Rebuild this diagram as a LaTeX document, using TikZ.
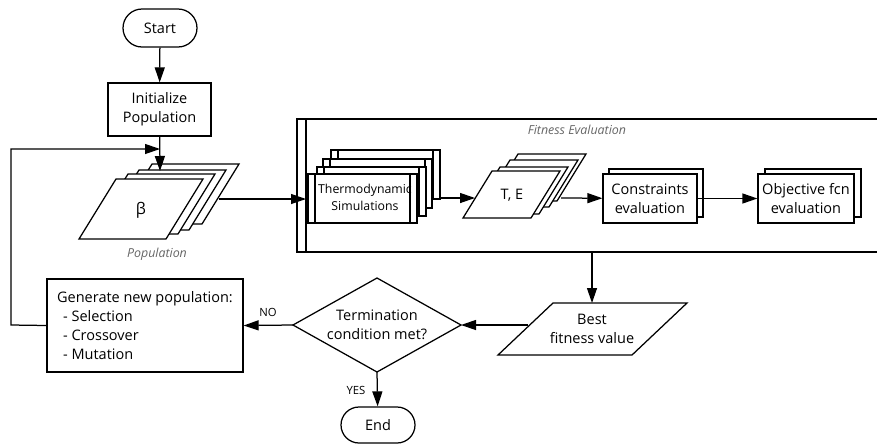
\documentclass[tikz,border=0pt]{standalone}
\usepackage{fontspec}
\setmainfont{Open Sans}
\newfontfamily\grk{Open Sans}
\usetikzlibrary{arrows.meta}
\newcommand\mypara[5]{\draw[shp] (#1,#2) -- ++(#3,0) -- ++(-#5,#4) -- ++(-#3,0) -- cycle;}
\newcommand\myproc[4]{\draw[shp] (#1,#2) rectangle ++(#3,#4);
  \draw (#1+7,#2) -- ++(0,#4); \draw (#1+#3-7,#2) -- ++(0,#4);}
\begin{document}
\begin{tikzpicture}[x=1pt,y=-1pt, line width=1.25pt,
  arr/.style={-{Triangle[length=15pt,width=10pt]}},
  txt/.style={font=\fontsize{14.5}{19}\selectfont, align=center, inner sep=0pt},
  captxt/.style={font=\fontsize{12.4}{14}\selectfont\itshape, text=black!60, inner sep=0pt},
  lbl/.style={font=\fontsize{11.3}{13}\selectfont, inner sep=0pt},
  shp/.style={draw, fill=white},
]
\useasboundingbox (0,0) rectangle (877,445);

% Start / Init
\node[draw, rounded corners=19pt, minimum width=74pt, minimum height=38pt, txt] (start) at (160,28) {Start};
\node[draw, minimum width=103pt, minimum height=53pt, txt] (init) at (159.5,109.5) {Initialize\\Population};

% Population stack
\mypara{152}{164}{87}{60}{37}
\mypara{139}{170}{87}{60}{37}
\mypara{128}{174}{87}{60}{37}
\mypara{116}{179}{87}{60}{37}
\node[txt, font={\grk\fontsize{16}{19}\selectfont}] (beta) at (141,210) {β};
\node[captxt] (poplbl) at (157,254) {Population};
\coordinate (popin) at (160,171);
\coordinate (popout) at (219,199);
\coordinate (loopjoin) at (160,149);

% Fitness evaluation frame
\draw (878,119) -- (297,119) -- (297,252) -- (878,252);
\draw (306,119) -- (306,252);
\node[captxt] (fittitle) at (577,130) {Fitness Evaluation};
\coordinate (fitin) at (306,199);
\coordinate (fitout) at (592,252);

% Thermodynamic stack
\myproc{331}{150}{109}{49}
\myproc{323}{159}{109}{49}
\myproc{317}{167}{109}{49}
\myproc{308}{174}{109}{49}
\node[txt, font=\fontsize{12.3}{17}\selectfont] (thermo) at (365,197) {Thermodynamic\\Simulations};
\coordinate (thermoout) at (440,198);

% T,E stack
\mypara{518}{154}{68}{47}{29}
\mypara{510}{160}{68}{47}{29}
\mypara{500}{167}{68}{47}{29}
\mypara{492}{171}{68}{47}{29}
\node[txt] (te) at (512,195) {T, E};
\coordinate (tein) at (475,198);
\coordinate (teout) at (561,198);

% Constraints / Objective
\draw[shp] (609,169) rectangle (703,217);
\node[shp, minimum width=94pt, minimum height=49pt, txt] (con) at (650,198.5) {Constraints\\evaluation};
\draw[shp] (765,169) rectangle (861,217);
\node[shp, minimum width=96pt, minimum height=49pt, txt] (obj) at (806,198.5) {Objective fcn\\evaluation};

% Best fitness value
\draw[shp] (553,303) -- (687,303) -- (632,355) -- (498,355) -- cycle;
\node[txt] (best) at (592,329) {Best\\fitness value};
\coordinate (besttop) at (592,303);
\coordinate (bestleft) at (528,325);

% Termination diamond
\coordinate (dT) at (377,278);
\coordinate (dR) at (461,325);
\coordinate (dB) at (377,372);
\coordinate (dL) at (293,325);
\draw (dT) -- (dR) -- (dB) -- (dL) -- cycle;
\node[txt] (term) at (377,325) {Termination\\condition met?};

% Generate new population
\node[draw, minimum width=196pt, minimum height=93pt, txt, align=left] (gen) at (145,325.5)
  {Generate new population:\\\hspace*{6pt}- Selection\\\hspace*{6pt}- Crossover\\\hspace*{6pt}- Mutation};
\coordinate (loopcorner1) at (11,325);
\coordinate (loopcorner2) at (11,149);

% End
\node[draw, rounded corners=18pt, minimum width=74pt, minimum height=36pt, txt] (end) at (378,425) {End};

% Connectors
\draw[arr] (start) -- (init);
\draw[arr] (init) -- (popin);
\draw[arr] (popout) -- (fitin);
\draw[arr] (thermoout) -- (tein);
\draw[arr] (teout) -- (con);
\draw[arr] (con) -- (obj);
\draw[arr] (fitout) -- (besttop);
\draw[arr] (bestleft) -- (dR);
\draw[arr] (dL) -- (gen.east);
\draw[arr] (gen.west) -- (loopcorner1) -- (loopcorner2) -- (loopjoin);
\draw[arr] (dB) -- (end);
\node[lbl] (nolbl) at (268,312) {NO};
\node[lbl] (yeslbl) at (356,390) {YES};
\end{tikzpicture}
\end{document}
